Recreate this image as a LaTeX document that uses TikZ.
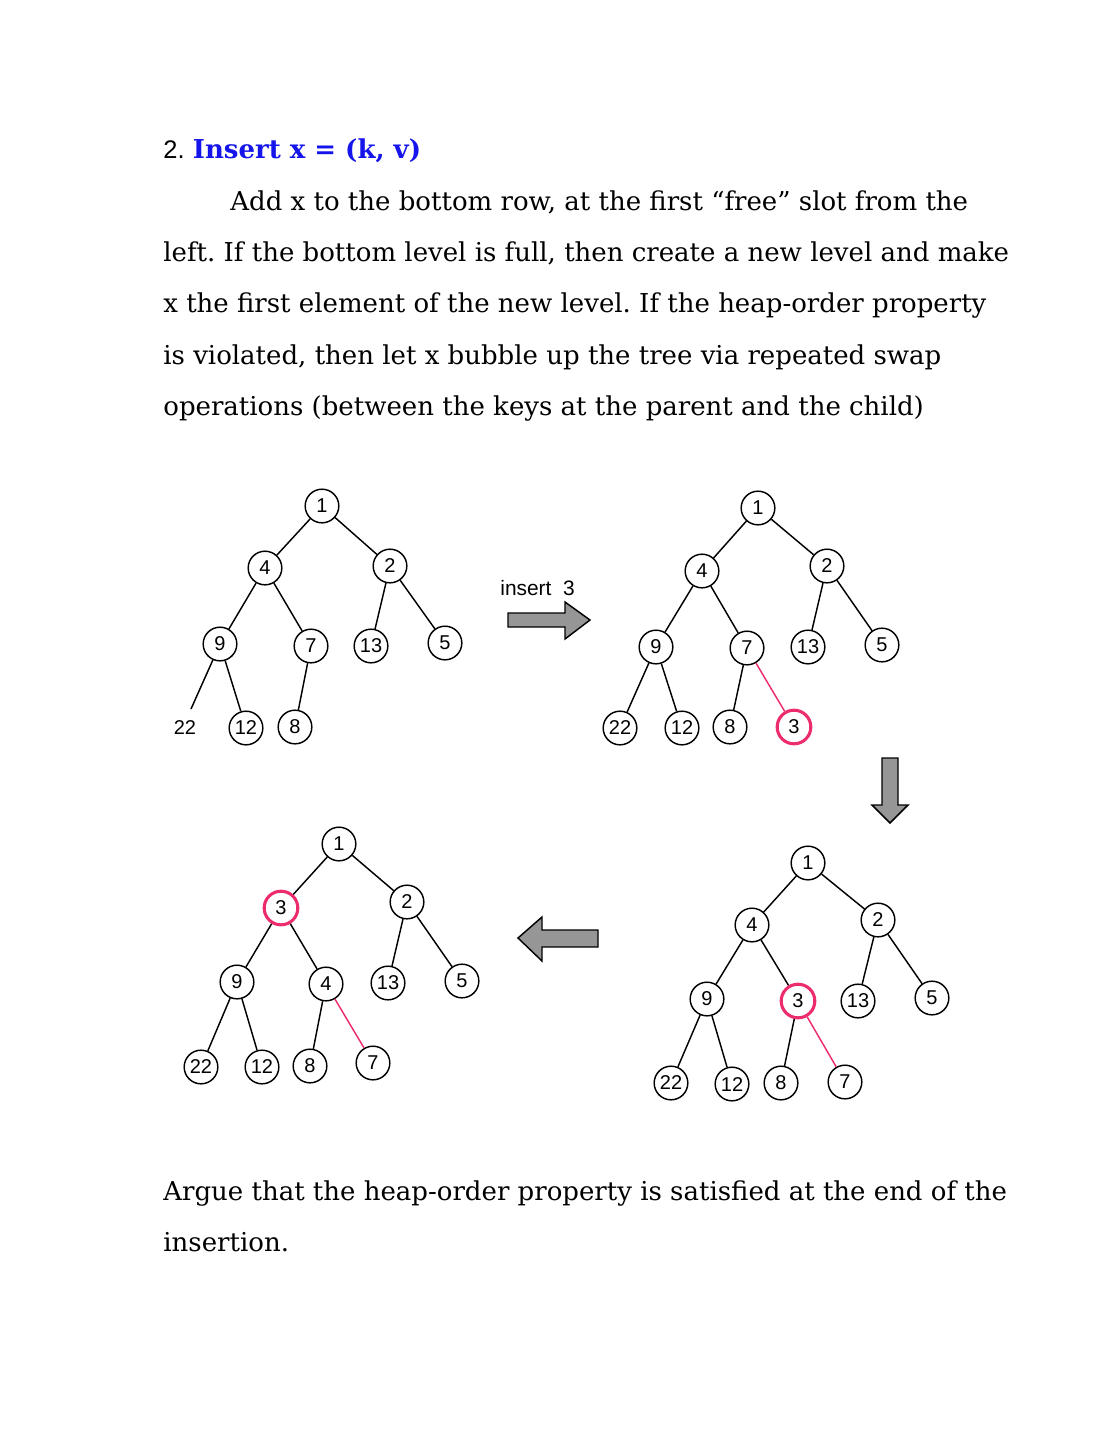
\documentclass[tikz,border=0pt]{standalone}
\usepackage{fontspec}
\setmainfont{DejaVu Serif}
\newfontfamily\keyfont{Liberation Sans}
\usepackage{tikz}
\usetikzlibrary{positioning}
\definecolor{swapred}{RGB}{236,44,110}
\definecolor{titleblue}{RGB}{20,20,235}
\definecolor{arrowgray}{RGB}{150,150,150}
\newcommand{\ptext}{\fontsize{14.3}{14.3}\selectfont\frenchspacing}
\newcommand{\tkey}{\keyfont\fontsize{11}{11}\selectfont}

\begin{document}
\begin{tikzpicture}[
  x=0.55pt, y=-0.55pt,
  para/.style={anchor=base west, inner sep=0pt, font=\ptext},
  key/.style={draw, circle, line width=0.8pt, minimum size=18.5pt, inner sep=0pt, font=\tkey},
  newkey/.style={key, draw=swapred, line width=1.7pt},
  edge/.style={line width=0.8pt},
  swapedge/.style={edge, draw=swapred},
  bigarrow/.style={draw, fill=arrowgray, line width=0.8pt, line join=miter},
]
  \useasboundingbox (0,0) rectangle (1113,1440);

  % text above
  \node[para] (title) at (163,158) {{\keyfont\fontsize{14}{14}\selectfont 2.} \textcolor{titleblue}{\textbf{Insert x = (k, v)}}};
  \node[para] (l1) at (230,210) {Add x to the bottom row, at the first ``free'' slot from the};
  \node[para] (l2) at (163,261) {left. If the bottom level is full, then create a new level and make};
  \node[para] (l3) at (163,312) {x the first element of the new level. If the heap-order property};
  \node[para] (l4) at (163,364) {is violated, then let x bubble up the tree via repeated swap};
  \node[para] (l5) at (163,415) {operations (between the keys at the parent and the child)};

  % tree a: before
  \node[key] (a1)  at (322,506) {1};
  \node[key] (a4)  at (265,568) {4};
  \node[key] (a2)  at (390,566) {2};
  \node[key] (a9)  at (220,644) {9};
  \node[key] (a7)  at (311,646) {7};
  \node[key] (a13) at (371,646) {13};
  \node[key] (a5)  at (445,643) {5};
  \coordinate (a22) at (191,709);
  \node[font=\tkey] (a22t) at (185,728) {22};
  \node[key] (a12) at (246,728) {12};
  \node[key] (a8)  at (295,727) {8};
  \draw[edge] (a1) -- (a4) (a1) -- (a2) (a4) -- (a9) (a4) -- (a7)
    (a2) -- (a13) (a2) -- (a5) (a9) -- (a22) (a9) -- (a12) (a7) -- (a8);

  % tree b: 3 added
  \node[key] (b1)  at (758,508) {1};
  \node[key] (b4)  at (702,571) {4};
  \node[key] (b2)  at (827,566) {2};
  \node[key] (b9)  at (656,647) {9};
  \node[key] (b7)  at (747,648) {7};
  \node[key] (b13) at (808,647) {13};
  \node[key] (b5)  at (882,645) {5};
  \node[key] (b22) at (620,728) {22};
  \node[key] (b12) at (682,728) {12};
  \node[key] (b8)  at (730,727) {8};
  \node[newkey] (b3) at (794,727) {3};
  \draw[edge] (b1) -- (b4) (b1) -- (b2) (b4) -- (b9) (b4) -- (b7)
    (b2) -- (b13) (b2) -- (b5) (b9) -- (b22) (b9) -- (b12) (b7) -- (b8);
  \draw[swapedge] (b7) -- (b3);

  % tree c: first swap
  \node[key] (c1)  at (808,863) {1};
  \node[key] (c4)  at (752,925) {4};
  \node[key] (c2)  at (878,920) {2};
  \node[key] (c9)  at (707,999) {9};
  \node[newkey] (c3) at (798,1001) {3};
  \node[key] (c13) at (858,1001) {13};
  \node[key] (c5)  at (932,998) {5};
  \node[key] (c22) at (671,1083) {22};
  \node[key] (c12) at (732,1084) {12};
  \node[key] (c8)  at (781,1083) {8};
  \node[key] (c7)  at (845,1082) {7};
  \draw[edge] (c1) -- (c4) (c1) -- (c2) (c4) -- (c9) (c4) -- (c3)
    (c2) -- (c13) (c2) -- (c5) (c9) -- (c22) (c9) -- (c12) (c3) -- (c8);
  \draw[swapedge] (c3) -- (c7);

  % tree d: second swap
  \node[key] (d1)  at (339,844) {1};
  \node[newkey] (d3) at (281,908) {3};
  \node[key] (d2)  at (407,902) {2};
  \node[key] (d9)  at (237,982) {9};
  \node[key] (d4)  at (326,984) {4};
  \node[key] (d13) at (388,983) {13};
  \node[key] (d5)  at (462,981) {5};
  \node[key] (d22) at (201,1067) {22};
  \node[key] (d12) at (262,1067) {12};
  \node[key] (d8)  at (310,1066) {8};
  \node[key] (d7)  at (373,1063) {7};
  \draw[edge] (d1) -- (d3) (d1) -- (d2) (d3) -- (d9) (d3) -- (d4)
    (d2) -- (d13) (d2) -- (d5) (d9) -- (d22) (d9) -- (d12) (d4) -- (d8);
  \draw[swapedge] (d4) -- (d7);

  % step arrows
  \node[font=\keyfont\fontsize{11.5}{11.5}\selectfont, anchor=base west, inner sep=0pt] (ins) at (500,595) {insert\ \ 3};
  \draw[bigarrow] (508,613) -- (565,613) -- (565,602) -- (590,620) -- (565,639)
    -- (565,627) -- (508,627) -- cycle;
  \draw[bigarrow] (882,758) -- (898,758) -- (898,805) -- (908,805) -- (890,823)
    -- (872,805) -- (882,805) -- cycle;
  \draw[bigarrow] (598,930) -- (542,930) -- (542,917) -- (518,938) -- (542,961)
    -- (542,947) -- (598,947) -- cycle;

  % text below
  \node[para] (q1) at (163,1200) {Argue that the heap-order property is satisfied at the end of the};
  \node[para] (q2) at (163,1251) {insertion.};
\end{tikzpicture}
\end{document}
